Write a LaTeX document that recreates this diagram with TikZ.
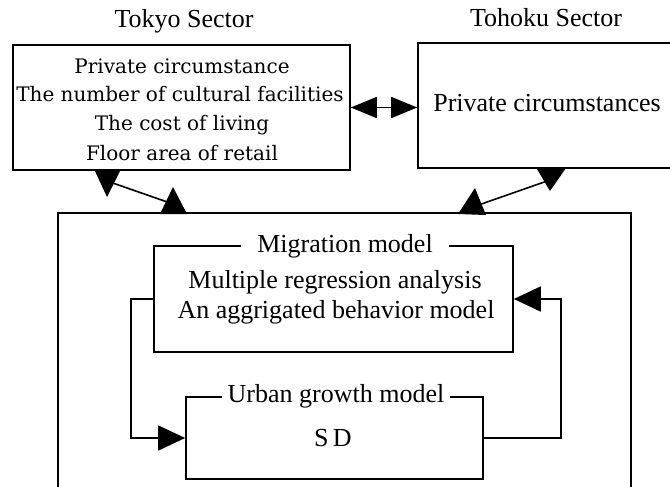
\documentclass[tikz,border=0pt]{standalone}
\usepackage{fontspec}
\setmainfont{Liberation Serif}
\newfontfamily\tkfont{DejaVu Serif}
\usetikzlibrary{arrows.meta}
\tikzset{
  ln/.style={line width=1.6pt, line join=miter},
  boxnode/.style={draw, ln, inner sep=0pt},
  lbl/.style={font=\fontsize{26}{30}\selectfont, inner sep=0pt, anchor=base},
  tklbl/.style={font=\tkfont\fontsize{20}{24}\selectfont, inner sep=0pt, anchor=base},
  ttl/.style={lbl, fill=white, inner ysep=4pt},
  tri/.style={fill=black},
  bigtip/.style={-{Triangle[length=27pt,width=25pt]}},
  dbltip/.style={{Triangle[length=26pt,width=21pt]}-{Triangle[length=26pt,width=21pt]}}
}
\begin{document}
\begin{tikzpicture}[x=1pt,y=-1pt]
\useasboundingbox (0,0) rectangle (670,487);
% boxes
\node[boxnode, minimum width=337pt, minimum height=125pt] (tokyo) at (181.5,107.5) {};
\node[boxnode, minimum width=282pt, minimum height=125pt] (tohoku) at (559,105.5) {};
\node[boxnode, minimum width=573pt, minimum height=307pt] (big) at (344.5,366.5) {};
\node[boxnode, minimum width=359pt, minimum height=106pt] (mig) at (333.5,299) {};
\node[boxnode, minimum width=297pt, minimum height=82pt] (urb) at (334.5,438) {};
% titles
\node[lbl] (tkt) at (184,28) {Tokyo Sector};
\node[lbl] (tht) at (546,27) {Tohoku Sector};
% Tokyo text
\node[tklbl] (tk1) at (182,74) {Private circumstance};
\node[tklbl] (tk2) at (180,102) {The number of cultural facilities};
\node[tklbl] (tk3) at (182,131) {The cost of living};
\node[tklbl] (tk4) at (182,160) {Floor area of retail};
% Tohoku text
\node[lbl] (th1) at (547,112) {Private circumstances};
% migration
\node[ttl, inner xsep=16pt] (migt) at (345,252) {Migration model};
\node[lbl] (m1) at (335,288) {Multiple regression analysis};
\node[lbl] (m2) at (336,318) {An aggrigated behavior model};
% urban
\node[ttl, inner xsep=6pt] (urbt) at (336,402) {Urban growth model};
\node[lbl] (sd) at (333,446) {S\,D};
% double arrow Tokyo - Tohoku
\draw[ln, dbltip] (tokyo.east) -- (tokyo.east -| tohoku.west);
% loops
\draw[ln, bigtip] (mig.west) -- ++(-22,0) |- (urb.west);
\draw[ln, bigtip] (urb.east) -- ++(77,0) |- (mig.east);
% Tokyo - big box
\coordinate (a1) at (107,181);
\coordinate (a2) at (173,204);
\draw[ln] (a1) -- (a2);
\fill[tri] (94,169) -- (121,169) -- (107,197) -- cycle;
\fill[tri] (160,214) -- (187,214) -- (173,187) -- cycle;
% Tohoku - big box
\coordinate (b1) at (550,180);
\coordinate (b2) at (470,208);
\draw[ln] (b1) -- (b2);
\fill[tri] (537,169) -- (566,168) -- (550,191) -- cycle;
\fill[tri] (458,214) -- (486,215) -- (475,188) -- cycle;
\end{tikzpicture}
\end{document}
